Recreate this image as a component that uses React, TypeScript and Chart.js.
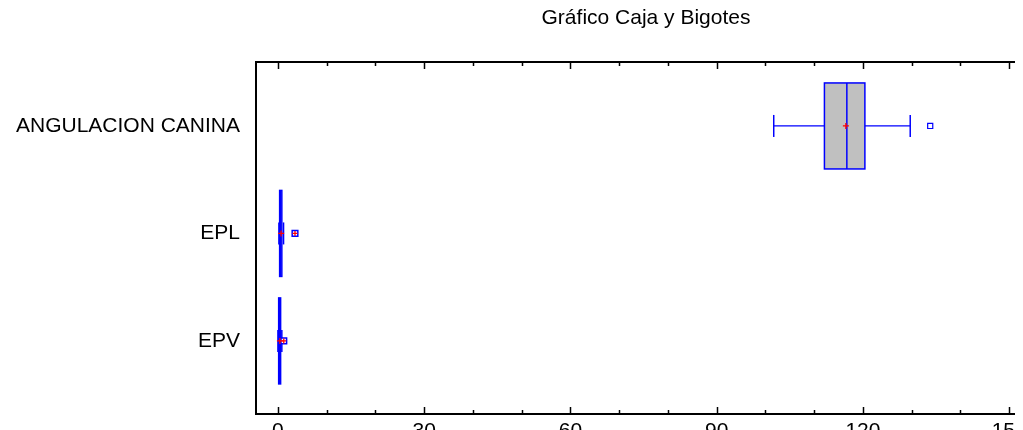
import React, { useEffect, useRef } from "react";
import { Chart, registerables } from "chart.js";
Chart.register(...registerables);

const categories = ["ANGULACION CANINA", "EPL", "EPV"];
const mins = [101.7, 0.2, 0.0];
const q1s = [112.1, 0.35, 0.15];
const medians = [116.7, 0.5, 0.3];
const q3s = [120.4, 0.8, 0.55];
const maxs = [129.7, 1.15, 0.8];
const means = [116.5, 0.65, 0.4];
const outliers: number[][] = [[133.8], [], []];
const farOutliers: number[][] = [[], [3.5], [1.2]];
const xTicks = [0, 30, 60, 90, 120, 150];
const xMinorTicks = [10, 20, 40, 50, 70, 80, 100, 110, 130, 140];

const FONT = "'Liberation Sans', Arial, sans-serif";
const BLUE = "rgb(0,0,255)";
const RED = "rgb(255,0,0)";

const boxPlugin = {
  id: "boxplot",
  beforeDatasetsDraw(chart: any) {
    const { ctx, scales } = chart;
    const x = scales.x;
    const y = scales.y;
    const line = (x1: number, y1: number, x2: number, y2: number) => {
      ctx.beginPath();
      ctx.moveTo(x1, y1);
      ctx.lineTo(x2, y2);
      ctx.stroke();
    };
    ctx.save();
    categories.forEach((_, i) => {
      const yc = y.getPixelForValue(i + 1);
      const px = (v: number) => x.getPixelForValue(v);
      const half = 43;
      const cap = 11;
      ctx.strokeStyle = BLUE;
      ctx.lineWidth = 1.3;
      line(px(mins[i]), yc, px(q1s[i]), yc);
      line(px(q3s[i]), yc, px(maxs[i]), yc);
      ctx.lineWidth = 1.5;
      line(px(mins[i]), yc - cap, px(mins[i]), yc + cap);
      line(px(maxs[i]), yc - cap, px(maxs[i]), yc + cap);
      ctx.fillStyle = "#C0C0C0";
      const bx = px(q1s[i]);
      const bw = px(q3s[i]) - bx;
      ctx.fillRect(bx, yc - half, bw, half * 2);
      ctx.lineWidth = 1.5;
      ctx.strokeRect(bx, yc - half, bw, half * 2);
      line(px(medians[i]), yc - half, px(medians[i]), yc + half);
    });
    ctx.restore();
  },
  afterDraw(chart: any) {
    const { ctx, chartArea, scales, width } = chart;
    const x = scales.x;
    const line = (x1: number, y1: number, x2: number, y2: number) => {
      ctx.beginPath();
      ctx.moveTo(x1, y1);
      ctx.lineTo(x2, y2);
      ctx.stroke();
    };
    ctx.save();
    ctx.strokeStyle = "#000";
    ctx.lineWidth = 2;
    line(chartArea.left, chartArea.top, chartArea.left, chartArea.bottom);
    line(chartArea.left - 1, chartArea.top, width, chartArea.top);
    line(chartArea.left - 1, chartArea.bottom, width, chartArea.bottom);
    ctx.lineWidth = 1.5;
    xTicks.forEach((v) => {
      const p = Math.round(x.getPixelForValue(v)) + 0.5;
      line(p, chartArea.top, p, chartArea.top + 7);
      line(p, chartArea.bottom, p, chartArea.bottom - 7);
    });
    xMinorTicks.forEach((v) => {
      const p = Math.round(x.getPixelForValue(v)) + 0.5;
      line(p, chartArea.top, p, chartArea.top + 4);
      line(p, chartArea.bottom, p, chartArea.bottom - 4);
    });
    ctx.restore();
  },
};

export default function App() {
  const ref = useRef<HTMLCanvasElement>(null);
  useEffect(() => {
    if (!ref.current) return;
    const meanPts = means.map((m, i) => ({ x: m, y: i + 1 }));
    const outPts: { x: number; y: number }[] = [];
    outliers.forEach((arr, i) => arr.forEach((v) => outPts.push({ x: v, y: i + 1 })));
    const farPts: { x: number; y: number }[] = [];
    farOutliers.forEach((arr, i) => arr.forEach((v) => farPts.push({ x: v, y: i + 1 })));
    const chart = new Chart(ref.current, {
      type: "scatter",
      data: {
        datasets: [
          {
            label: "means",
            data: meanPts,
            pointStyle: "cross",
            pointRadius: 3,
            borderColor: RED,
            borderWidth: 1.3,
            order: 0,
          },
          {
            label: "farPlus",
            data: farPts,
            pointStyle: "cross",
            pointRadius: 2.5,
            borderColor: RED,
            borderWidth: 1.3,
            order: 1,
          },
          {
            label: "far",
            data: farPts,
            pointStyle: "rect",
            pointRadius: 4,
            borderColor: BLUE,
            backgroundColor: "#fff",
            borderWidth: 1.5,
            order: 2,
          },
          {
            label: "outliers",
            data: outPts,
            pointStyle: "rect",
            pointRadius: 3.6,
            borderColor: BLUE,
            backgroundColor: "#fff",
            borderWidth: 1.2,
            order: 3,
          },
        ],
      },
      options: {
        animation: false,
        responsive: false,
        maintainAspectRatio: false,
        events: [],
        layout: { padding: { top: 0, right: 12, bottom: 0, left: 0 } },
        plugins: {
          legend: { display: false },
          tooltip: { enabled: false },
          title: {
            display: true,
            text: "Gráfico Caja y Bigotes",
            fullSize: false,
            color: "#000",
            font: { family: FONT, size: 21, weight: "normal", lineHeight: 1 },
            padding: { top: 0, bottom: 33 },
          },
        },
        scales: {
          x: {
            type: "linear",
            position: "bottom",
            min: -4.5,
            max: 155.5,
            afterBuildTicks: (s: any) => {
              s.ticks = xTicks.map((v) => ({ value: v }));
            },
            afterFit: (s: any) => {
              s.height = 34;
            },
            grid: { display: false, drawTicks: false },
            border: { display: false },
            ticks: {
              color: "#000",
              font: { family: FONT, size: 21 },
              padding: 5,
              maxRotation: 0,
              autoSkip: false,
            },
          },
          y: {
            type: "linear",
            reverse: true,
            min: 0.405,
            max: 3.68,
            afterBuildTicks: (s: any) => {
              s.ticks = categories.map((_, i) => ({ value: i + 1 }));
            },
            afterFit: (s: any) => {
              s.width = 248;
            },
            grid: { display: false, drawTicks: false },
            border: { display: false },
            ticks: {
              color: "#000",
              font: { family: FONT, size: 21 },
              padding: 16,
              autoSkip: false,
              callback: (v: any) => categories[Math.round(Number(v)) - 1] ?? "",
            },
          },
        },
      } as any,
      plugins: [boxPlugin],
    });
    return () => chart.destroy();
  }, []);
  return (
    <div style={{ width: 1015, height: 422, overflow: "hidden" }}>
      <canvas ref={ref} width={1040} height={440} style={{ display: "block" }} />
    </div>
  );
}
